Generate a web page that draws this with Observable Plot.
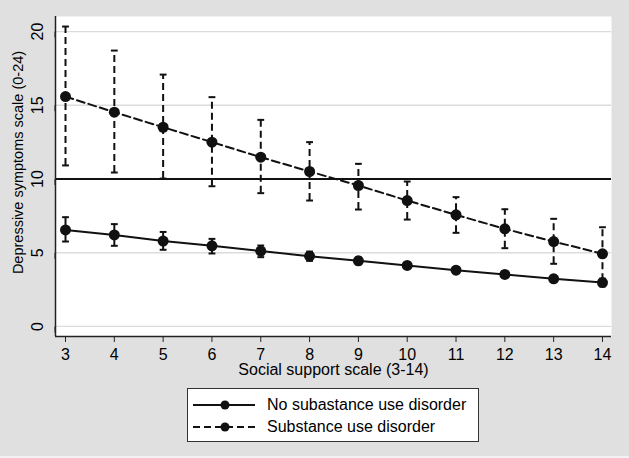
<!DOCTYPE html>
<html>
<head>
<meta charset="utf-8">
<script src="https://cdn.jsdelivr.net/npm/d3@7"></script>
<script src="https://cdn.jsdelivr.net/npm/@observablehq/plot@0.6"></script>
<style>
  html, body { margin: 0; padding: 0; }
  body { background: #f2f2f2; width: 629px; height: 458px; overflow: hidden; font-family: "Liberation Sans", Arial, Helvetica, sans-serif; }
  #wrap { background: #e0e0e0; width: 629px; height: 456px; position: relative; }
  #wrap > svg { display: block; }
  #legend { position: absolute; left: 187px; top: 388px; width: 290px; height: 52px; background: #fff; border: 1px solid #333; }
  .row { position: absolute; left: 0; height: 20px; display: flex; align-items: center; font-size: 16px; color: #000; }
  .row svg { margin-left: 5px; margin-right: 12px; }
</style>
</head>
<body>
<div id="wrap"></div>
<script>
// ---- data ----
const socialSupport = [3, 4, 5, 6, 7, 8, 9, 10, 11, 12, 13, 14];

const noSudMean = [6.55, 6.21, 5.79, 5.47, 5.11, 4.77, 4.45, 4.14, 3.82, 3.53, 3.23, 2.98];
const noSudLow  = [5.76, 5.47, 5.20, 4.95, 4.70, 4.45, 4.22, 3.97, 3.66, 3.35, 3.02, 2.72];
const noSudHigh = [7.41, 6.94, 6.41, 5.94, 5.49, 5.08, 4.68, 4.31, 3.98, 3.71, 3.44, 3.24];

const sudMean = [15.59, 14.53, 13.51, 12.50, 11.48, 10.51, 9.56, 8.54, 7.57, 6.62, 5.76, 4.93];
const sudLow  = [10.92, 10.44, 10.03, 9.51, 9.04, 8.54, 7.93, 7.25, 6.35, 5.31, 4.25, 3.10];
const sudHigh = [20.34, 18.71, 17.08, 15.55, 14.01, 12.50, 11.03, 9.83, 8.77, 7.95, 7.30, 6.73];

const seriesNames = ["No subastance use disorder", "Substance use disorder"];
const yTicks = [0, 5, 10, 15, 20];
const gridTicks = [0, 5, 15, 20];
const referenceLine = [10];
const xTitle = "Social support scale (3-14)";
const yTitle = "Depressive symptoms scale (0-24)";

// ---- build tidy table ----
const noSud = socialSupport.map((x, i) => ({x, m: noSudMean[i], lo: noSudLow[i], hi: noSudHigh[i]}));
const sud = socialSupport.map((x, i) => ({x, m: sudMean[i], lo: sudLow[i], hi: sudHigh[i]}));

const capHalf = 0.07;
const ink = "#111";
const dash = "7,4";
const xMin = 2.795, xMax = 14.185, yMin = -0.68, yMax = 21.02;

const chart = Plot.plot({
  width: 629,
  height: 386,
  marginLeft: 55,
  marginRight: 18,
  marginTop: 16,
  marginBottom: 50,
  style: {background: "transparent", fontFamily: "'Liberation Sans', Arial, sans-serif", fontSize: "16px", color: "#000"},
  x: {domain: [xMin, xMax], ticks: socialSupport, tickFormat: d => d},
  y: {domain: [yMin, yMax]},
  marks: [
    Plot.frame({fill: "white", stroke: null}),
    Plot.ruleY(gridTicks, {stroke: "#dcdcdc", strokeWidth: 1.3}),
    Plot.ruleY(referenceLine, {stroke: ink, strokeWidth: 2}),
    // error bars: no SUD
    Plot.ruleX(noSud, {x: "x", y1: "lo", y2: "hi", stroke: ink, strokeWidth: 2}),
    Plot.link(noSud, {x1: d => d.x - capHalf, x2: d => d.x + capHalf, y1: "hi", y2: "hi", stroke: ink, strokeWidth: 2}),
    Plot.link(noSud, {x1: d => d.x - capHalf, x2: d => d.x + capHalf, y1: "lo", y2: "lo", stroke: ink, strokeWidth: 2}),
    // error bars: SUD (dashed)
    Plot.ruleX(sud, {x: "x", y1: "lo", y2: "hi", stroke: ink, strokeWidth: 2, strokeDasharray: dash}),
    Plot.link(sud, {x1: d => d.x - capHalf, x2: d => d.x + capHalf, y1: "hi", y2: "hi", stroke: ink, strokeWidth: 2}),
    Plot.link(sud, {x1: d => d.x - capHalf, x2: d => d.x + capHalf, y1: "lo", y2: "lo", stroke: ink, strokeWidth: 2}),
    // lines
    Plot.line(noSud, {x: "x", y: "m", stroke: ink, strokeWidth: 2}),
    Plot.line(sud, {x: "x", y: "m", stroke: ink, strokeWidth: 2, strokeDasharray: "8,4"}),
    Plot.dot(noSud, {x: "x", y: "m", r: 5.5, fill: ink, stroke: null}),
    Plot.dot(sud, {x: "x", y: "m", r: 5.5, fill: ink, stroke: null}),
    // axes
    Plot.axisX({ticks: socialSupport, tickSize: 6, tickPadding: 6, label: null, fontSize: 16, stroke: "#222", fill: "#000"}),
    Plot.axisY({ticks: yTicks, tickSize: 6, tickPadding: 7, label: null, fontSize: 16, rotate: -90, textAnchor: "middle", lineAnchor: "bottom", stroke: "#222", fill: "#000"}),
    Plot.ruleX([xMin], {stroke: "#222", strokeWidth: 1.5}),
    Plot.ruleY([yMin], {stroke: "#222", strokeWidth: 1.5}),
    Plot.text([xTitle], {frameAnchor: "bottom", dy: 38, fontSize: 16, fill: "#000"}),
    Plot.text([yTitle], {frameAnchor: "left", textAnchor: "middle", dx: -37, dy: -14, rotate: -90, fontSize: 14.5, fill: "#000"})
  ]
});

const wrap = document.getElementById("wrap");
wrap.appendChild(chart);

// ---- legend (HTML below the plot) ----
const legend = document.createElement("div");
legend.id = "legend";
const rows = [{name: seriesNames[0], dash: null, top: 6}, {name: seriesNames[1], dash: "7,4", top: 28}];
for (const r of rows) {
  const row = document.createElement("div");
  row.className = "row";
  row.style.top = r.top + "px";
  row.innerHTML = `<svg width="62" height="20"><line x1="0" x2="62" y1="10" y2="10" stroke="${ink}" stroke-width="2" ${r.dash ? `stroke-dasharray="${r.dash}"` : ""}/><circle cx="32" cy="10" r="4.5" fill="${ink}"/></svg><span>${r.name}</span>`;
  legend.appendChild(row);
}
wrap.appendChild(legend);
</script>
</body>
</html>
